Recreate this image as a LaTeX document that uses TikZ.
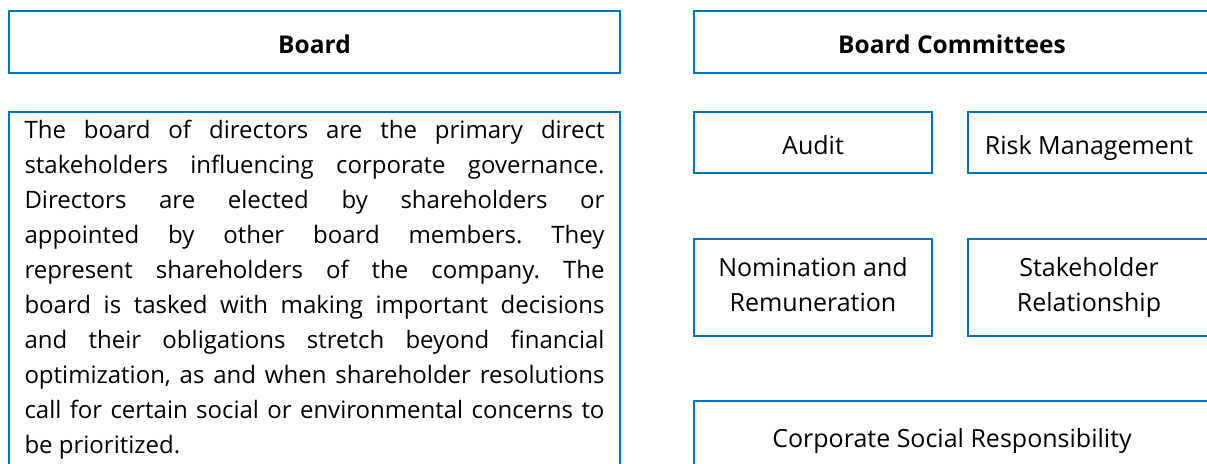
\documentclass[tikz,border=0pt]{standalone}
\usepackage{fontspec}
\setmainfont{Open Sans}
\usepackage{xcolor}
\usepackage{tikz}
\usetikzlibrary{positioning}
\definecolor{boxblue}{HTML}{0070C0}
\newcommand\panelstrut{\rule[-5.5pt]{0pt}{35pt}}
\tikzset{
	panel/.style={draw=boxblue, line width=2.5pt, inner sep=0pt, outer sep=0pt, anchor=north west,
		font=\fontsize{25}{35}\selectfont, align=center,
		execute at begin node=\panelstrut, execute at end node=\panelstrut},
	heading/.style={panel, font=\fontsize{24.5}{35}\selectfont\bfseries},
}

\begin{document}
\begin{tikzpicture}[x=1pt, y=1pt]
	\useasboundingbox (0,0) rectangle (1207,463);
	\clip (0,0) rectangle (1207,463);
	\node [heading, minimum width=611pt, minimum height=62pt] (board) at (9,452) {Board};
	\node [panel, below=39pt of board.south west, anchor=north west, text width=580pt, inner xsep=15.5pt, inner ysep=-2.5pt,
		font=\fontsize{24}{35}\selectfont\frenchspacing, align=justify] (duties) {The board of directors are the primary direct\linebreak
		stakeholders influencing corporate governance.\linebreak
		Directors are elected by shareholders or\linebreak
		appointed by other board members. They\linebreak
		represent shareholders of the company. The\linebreak
		board is tasked with making important decisions\linebreak
		and their obligations stretch beyond financial\linebreak
		optimization, as and when shareholder resolutions\linebreak
		call for certain social or environmental concerns to\linebreak
		be prioritized.\par\vspace{40pt}};
	\node [heading, minimum width=516pt, minimum height=62pt] (committees) at (694,452) {Board Committees};
	\node [panel, below=39pt of committees.south west, anchor=north west, minimum width=238pt, minimum height=61pt] (audit) {Audit};
	\node [panel, right=36pt of audit, anchor=west, minimum width=242pt, minimum height=61pt] (risk) {Risk Management};
	\node [panel, below=66pt of audit.south west, anchor=north west, minimum width=238pt, minimum height=97pt] (nomination) {Nomination and\\Remuneration};
	\node [panel, right=36pt of nomination, anchor=west, minimum width=242pt, minimum height=97pt] (stakeholder) {Stakeholder\\Relationship};
	\node [panel, below=65pt of nomination.south west, anchor=north west, minimum width=516pt, minimum height=70pt] (csr) {Corporate Social Responsibility};
\end{tikzpicture}
\end{document}
